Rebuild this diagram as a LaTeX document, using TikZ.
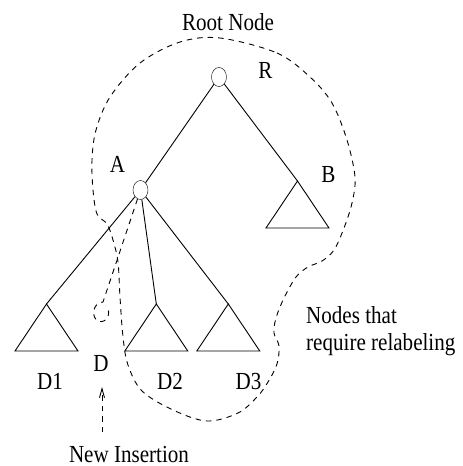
\documentclass[tikz,border=0pt]{standalone}
\usepackage{fontspec}
\setmainfont{Liberation Serif}[FakeStretch=0.86]
\usetikzlibrary{shapes.geometric,arrows.meta}
\tikzset{
  lbl/.style={font=\fontsize{24.5}{28}\selectfont, inner sep=0pt, anchor=base},
  treenode/.style={draw, ellipse, minimum width=15pt, minimum height=19pt, inner sep=0pt},
  edge/.style={line width=0.9pt},
  subtree/.style={line width=0.9pt, line join=miter},
  region/.style={line width=0.9pt, dash pattern=on 5.5pt off 5pt},
}
\newcommand{\subtreeat}[1]{\draw[subtree] (#1) -- ++(-31.5,47) -- ++(63,0) -- cycle;}
\begin{document}
\begin{tikzpicture}[x=1pt,y=-1pt]
\useasboundingbox (0,0) rectangle (463,466);

% tree nodes
\node[treenode] (R) at (219,77) {};
\node[treenode] (A) at (140.5,190) {};

% apexes of the subtrees
\coordinate (Bt) at (297.5,181);
\coordinate (D1t) at (46.5,304);
\coordinate (D2t) at (156.3,304);
\coordinate (D3t) at (228.3,304);

\subtreeat{Bt}
\subtreeat{D1t}
\subtreeat{D2t}
\subtreeat{D3t}

% edges
\draw[edge] (R) -- (A);
\draw[edge] (R) -- (Bt);
\draw[edge] (A) -- (D1t);
\draw[edge] (A) -- (D2t);
\draw[edge] (A) -- (D3t);

% labels
\node[lbl] (rootlbl) at (228,30) {Root Node};
\node[lbl] (Rlbl) at (265.5,78) {R};
\node[lbl] (Albl) at (117.5,172) {A};
\node[lbl] (Blbl) at (328.5,182) {B};
\node[lbl] (D1lbl) at (50,389) {D1};
\node[lbl] (Dlbl) at (101,371) {D};
\node[lbl] (D2lbl) at (170,389) {D2};
\node[lbl] (D3lbl) at (248.5,389) {D3};
\node[lbl] (newlbl) at (129,462) {New Insertion};
\node[lbl, anchor=base west] (rel1) at (306,323) {Nodes that};
\node[lbl, anchor=base west] (rel2) at (306,350) {require relabeling};

% insertion arrow
\coordinate (arrS) at (102,432);
\coordinate (arrT) at (102,387);
\draw[region, -{Straight Barb[length=9pt,width=5pt]}] (arrS) -- (arrT);

% insertion path from A with its small loop
\coordinate (loopTop) at (103,302);
\draw[region] (A) -- (loopTop)
  .. controls (93,302) and (90,318) .. (99,321.5)
  .. controls (107,323) and (112,313) .. (106,306);

% region of nodes that require relabeling
\draw[region] plot[smooth cycle, tension=0.55] coordinates {
  (220,38) (277,53) (310,77) (332,103) (347,140) (355,177) (352,203)
  (344,228) (334,250) (322,261) (308,267) (296,277) (284,298) (276,318)
  (274,333) (279,346) (277,364) (268,382) (257,397) (238,413) (207,421)
  (173,410) (142,391) (128,365) (123,337) (120,297) (118,262) (113,240)
  (107,224) (97,214) (93,190) (92,160) (96,130) (110,97) (140,63) (180,42)
};
\end{tikzpicture}
\end{document}
